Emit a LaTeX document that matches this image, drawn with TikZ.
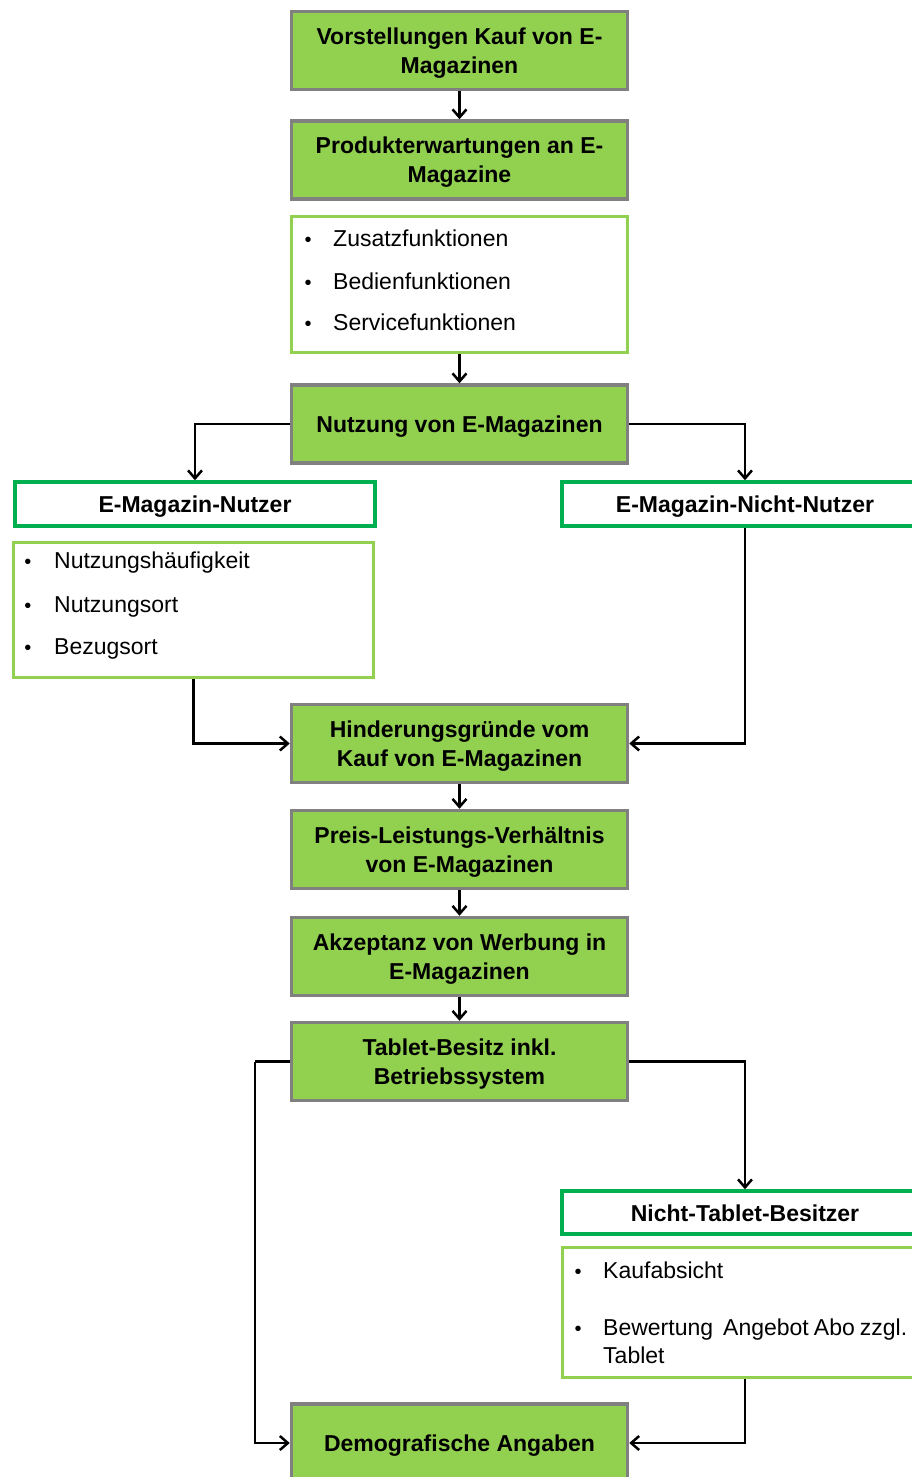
\documentclass[tikz,border=0pt]{standalone}
\usepackage{fontspec}
\setmainfont{Liberation Sans}
\usetikzlibrary{arrows.meta}
\definecolor{boxgreen}{HTML}{92D050}
\definecolor{darkgreen}{HTML}{00B050}
\definecolor{boxgray}{HTML}{808080}
\newcommand{\fupstrut}{\rule{0pt}{21.2pt}}
\begin{document}
\begin{tikzpicture}[x=1pt,y=-1pt,
  mainbox/.style={draw=boxgray, line width=3.5pt, fill=boxgreen, minimum width=336pt, minimum height=78pt,
    align=center, inner sep=0pt, font=\fontsize{23}{29}\selectfont\bfseries},
  oneline/.style={text height=17pt, text depth=0pt},
  listbox/.style={draw=boxgreen, line width=3pt, fill=white, inner sep=0pt},
  headbox/.style={draw=darkgreen, line width=3.5pt, fill=white, inner sep=0pt, minimum height=44pt,
    font=\fontsize{23}{29}\selectfont\bfseries, text height=17pt, text depth=0pt},
  itemtext/.style={anchor=base west, inner sep=0pt, font=\fontsize{23}{28}\selectfont},
  bulletmark/.style={anchor=base, inner sep=0pt, font=\fontsize{20}{24}\selectfont},
  conn/.style={draw=black, line width=2.5pt, -{Straight Barb[length=8pt,width=14pt,line width=2.5pt]}},
  plain/.style={draw=black, line width=2.5pt}
]
\useasboundingbox (0,0) rectangle (912,1477);
\clip (0,0) rectangle (912,1477);

% main column
\node[mainbox] (v1) at (459.5,50.5) {\fupstrut Vorstellungen Kauf von E-\\Magazinen};
\node[mainbox] (v2) at (459.5,160) {\fupstrut Produkterwartungen an E-\\Magazine};
\node[listbox, minimum width=336pt, minimum height=136pt] (l1) at (459.5,284.5) {};
\node[bulletmark] (l1b1) at (308,246) {\textbullet};
\node[itemtext] (l1t1) at (333,246) {Zusatzfunktionen};
\node[bulletmark] (l1b2) at (308,289) {\textbullet};
\node[itemtext] (l1t2) at (333,289) {Bedienfunktionen};
\node[bulletmark] (l1b3) at (308,330) {\textbullet};
\node[itemtext] (l1t3) at (333,330) {Servicefunktionen};

\node[mainbox, oneline] (nutz) at (459.5,424) {Nutzung von E-Magazinen};

% left branch
\node[headbox, minimum width=360pt] (nutzer) at (195,504) {E-Magazin-Nutzer};
\node[listbox, minimum width=360pt, minimum height=135pt] (l2) at (193.5,610) {};
\node[bulletmark] (l2b1) at (28,568) {\textbullet};
\node[itemtext] (l2t1) at (54,568) {Nutzungshäufigkeit};
\node[bulletmark] (l2b2) at (28,612) {\textbullet};
\node[itemtext] (l2t2) at (54,612) {Nutzungsort};
\node[bulletmark] (l2b3) at (28,654) {\textbullet};
\node[itemtext] (l2t3) at (54,654) {Bezugsort};

% right branch
\node[headbox, minimum width=366pt] (nicht) at (745,504) {E-Magazin-Nicht-Nutzer};

\node[mainbox] (hind) at (459.5,743.5) {\fupstrut Hinderungsgründe vom\\Kauf von E-Magazinen};
\node[mainbox] (preis) at (459.5,849.5) {\fupstrut Preis-Leistungs-Verhältnis\\von E-Magazinen};
\node[mainbox] (akz) at (459.5,956.5) {\fupstrut Akzeptanz von Werbung in\\E-Magazinen};
\node[mainbox] (tab) at (459.5,1061.5) {\fupstrut Tablet-Besitz inkl.\\Betriebssystem};

\node[headbox, minimum width=366pt, minimum height=43pt] (ntb) at (745,1212.5) {Nicht-Tablet-Besitzer};
\node[listbox, minimum width=366pt, minimum height=130pt] (l3) at (745,1312.5) {};
\node[bulletmark] (l3b1) at (578,1278) {\textbullet};
\node[itemtext] (l3t1) at (603,1278) {Kaufabsicht};
\node[bulletmark] (l3b2) at (578,1335) {\textbullet};
\node[itemtext] (l3t2) at (603,1335) {\makebox[304pt][s]{Bewertung\ \ Angebot Abo zzgl.}};
\node[itemtext] (l3t3) at (603,1363) {Tablet};

\node[mainbox, oneline] (demo) at (459.5,1443) {Demografische Angaben};

\coordinate (tl) at (255,1061.5);

% connectors
\draw[conn] (v1.south) -- (v2.north);
\draw[conn] (l1.south) -- (nutz.north);
\draw[conn] (nutz.west) -| (nutzer.north);
\draw[conn] (nutz.east) -| (nicht.north);
\draw[conn] (l2.south) |- (hind.west);
\draw[conn] (nicht.south) |- (hind.east);
\draw[conn] (hind.south) -- (preis.north);
\draw[conn] (preis.south) -- (akz.north);
\draw[conn] (akz.south) -- (tab.north);
\draw[plain] (tab.west) -- (tl);
\draw[conn] (tl) |- (demo.west);
\draw[conn] (tab.east) -| (ntb.north);
\draw[conn] (l3.south) |- (demo.east);
\end{tikzpicture}
\end{document}
